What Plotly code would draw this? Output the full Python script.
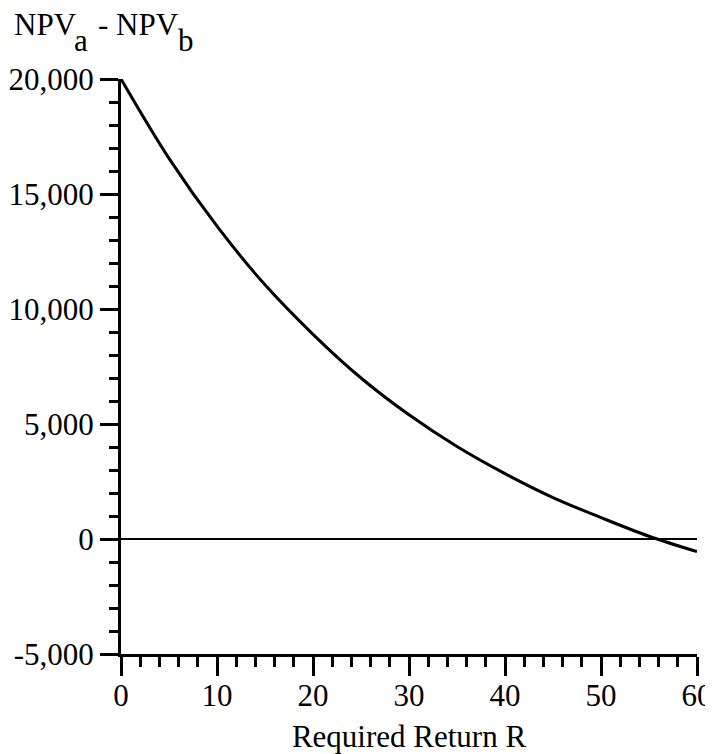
import plotly.graph_objects as go

# Data
required_return = [0, 5, 10, 15, 20, 25, 30, 35, 40, 45, 50, 55, 60]
npv_diff = [20000, 16550, 13600, 11050, 8900, 7000, 5400, 4020, 2840, 1800, 930, 120, -550]

y_tickvals = [-5000, 0, 5000, 10000, 15000, 20000]
y_ticktext = ["-5,000", "0", "5,000", "10,000", "15,000", "20,000"]
x_tickvals = [0, 10, 20, 30, 40, 50, 60]
x_ticktext = ["0", "10", "20", "30", "40", "50", "60"]

FONT = "Liberation Serif"
FS = 31

fig = go.Figure()
fig.add_trace(go.Scatter(
    x=required_return, y=npv_diff, mode="lines",
    line=dict(color="black", width=3, shape="spline", smoothing=1.0),
    showlegend=False, hoverinfo="skip"))

fig.update_layout(
    width=713, height=746,
    margin=dict(l=113, r=24, t=71, b=100, autoexpand=False),
    paper_bgcolor="white", plot_bgcolor="white",
    font=dict(family=FONT, size=FS, color="black"),
    xaxis=dict(
        range=[0, 60], showgrid=False, zeroline=False, automargin=False,
        showline=True, linecolor="black", linewidth=3,
        ticks="outside", ticklen=19, tickwidth=3, tickcolor="black",
        tickvals=x_tickvals, ticktext=x_ticktext, ticklabelstandoff=-7,
        ticklabeloverflow="allow",
        tickfont=dict(family=FONT, size=FS, color="black"),
        minor=dict(dtick=2, ticks="outside", ticklen=10, tickwidth=3, tickcolor="black", showgrid=False),
        title=dict(text="Required Return R", font=dict(family=FONT, size=FS, color="black"), standoff=24),
    ),
    yaxis=dict(
        range=[-5000, 20000], showgrid=False, automargin=False,
        zeroline=True, zerolinecolor="black", zerolinewidth=2,
        showline=True, linecolor="black", linewidth=3,
        ticks="outside", ticklen=18, tickwidth=3, tickcolor="black",
        tickvals=y_tickvals, ticktext=y_ticktext,
        ticklabeloverflow="allow",
        tickfont=dict(family=FONT, size=FS, color="black"),
        minor=dict(dtick=1000, ticks="outside", ticklen=9, tickwidth=3, tickcolor="black", showgrid=False),
    ),
)

def px_to_paper(xpx, ypx):
    return (xpx - 121) / 576.0, (654 - ypx) / 575.0

title_parts = [("NPV", 13, 25), ("a", 73, 40), ("- NPV", 97, 25), ("b", 177, 40)]
for txt, xpx, ypx in title_parts:
    xp, yp = px_to_paper(xpx, ypx)
    fig.add_annotation(text=txt, x=xp, y=yp, xref="paper", yref="paper",
                       xanchor="left", yanchor="middle", showarrow=False,
                       borderpad=0,
                       font=dict(family=FONT, size=FS, color="black"))

fig.write_html("out.html")
